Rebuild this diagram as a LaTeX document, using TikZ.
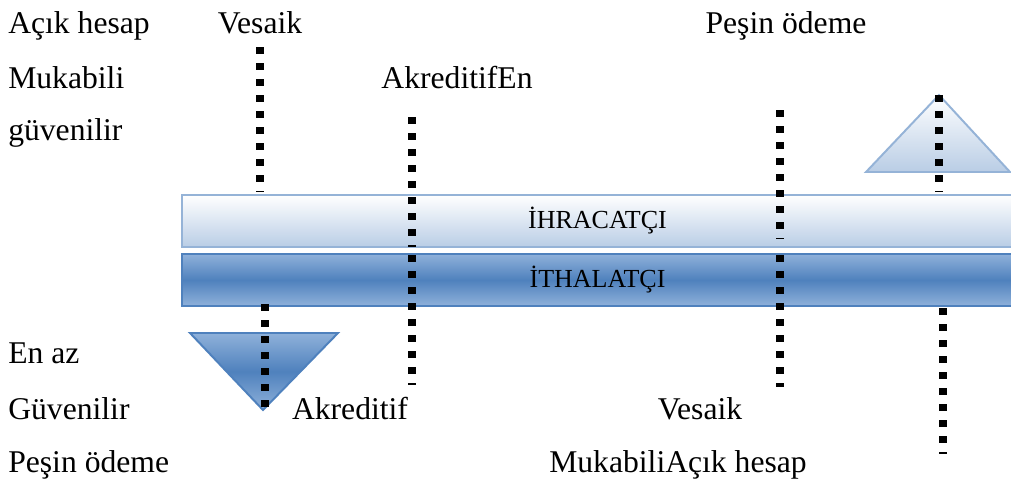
\documentclass[tikz,border=0pt]{standalone}
\usepackage{fontspec}
\setmainfont{Liberation Serif}
\usetikzlibrary{positioning}
\definecolor{paleEdge}{HTML}{95B3D7}
\definecolor{darkBlue}{HTML}{4F81BD}
\definecolor{paleBlue}{HTML}{B9CDE5}
\definecolor{midBlue}{HTML}{8FB1DA}
\tikzset{
  lbl/.style={anchor=base,inner sep=0pt,font=\fontsize{22.5}{27}\selectfont},
  lblw/.style={lbl,anchor=base west},
  bar/.style={minimum width=20.775cm,minimum height=1.3cm,inner sep=0pt,
    line width=1.4pt,font=\fontsize{18.5}{22}\selectfont},
  dots/.style={line width=5pt,dash pattern=on 5pt off 6.4pt}
}

\begin{document}
\begin{tikzpicture}[x=0.025cm,y=-0.025cm]
    \useasboundingbox (0,0) rectangle (1011,482);

    % the two bars
    \node (exp) [bar,draw=paleEdge,top color=white,bottom color=paleBlue] at (597.5,221) {İHRACATÇI};
    \node (imp) [bar,draw=darkBlue,top color=midBlue,bottom color=midBlue,middle color=darkBlue] at (597.5,280) {İTHALATÇI};

    % triangles
    \draw [line width=1.4pt,draw=darkBlue,top color=midBlue,bottom color=midBlue,middle color=darkBlue]
      (190,333) -- (338,333) -- (263,410) -- cycle;
    \draw [line width=1.4pt,draw=paleEdge,top color=white,bottom color=paleBlue]
      (939,95) -- (1010,172) -- (866,172) -- cycle;

    % dotted lines
    \draw [dots] (260,47) -- (260,192);
    \draw [dots] (412,117) -- (412,247);
    \draw [dots] (412,255) -- (412,385);
    \draw [dots] (780,110) -- (780,239);
    \draw [dots] (780,255) -- (780,387);
    \draw [dots] (939,95) -- (939,192);
    \draw [dots] (265,304) -- (265,411);
    \draw [dots] (943,308) -- (943,454);

    % top texts
    \node (acik) [lblw] at (8,33) {Açık hesap};
    \node (muk) [lblw] at (8,88) {Mukabili};
    \node (guv) [lblw] at (8,140) {güvenilir};
    \node (ves) [lbl] at (260,33) {Vesaik};
    \node (akren) [lbl] at (457,88) {AkreditifEn};
    \node (pes) [lbl] at (786,33) {Peşin ödeme};

    % bottom texts
    \node (enaz) [lblw] at (8,363) {En az};
    \node (Guv) [lblw] at (8,419) {Güvenilir};
    \node (Pes) [lblw] at (8,472) {Peşin ödeme};
    \node (akr) [lbl] at (350,419) {Akreditif};
    \node (Ves) [lbl] at (700,419) {Vesaik};
    \node (mukacik) [lbl] at (678,472) {MukabiliAçık hesap};
\end{tikzpicture}
\end{document}
